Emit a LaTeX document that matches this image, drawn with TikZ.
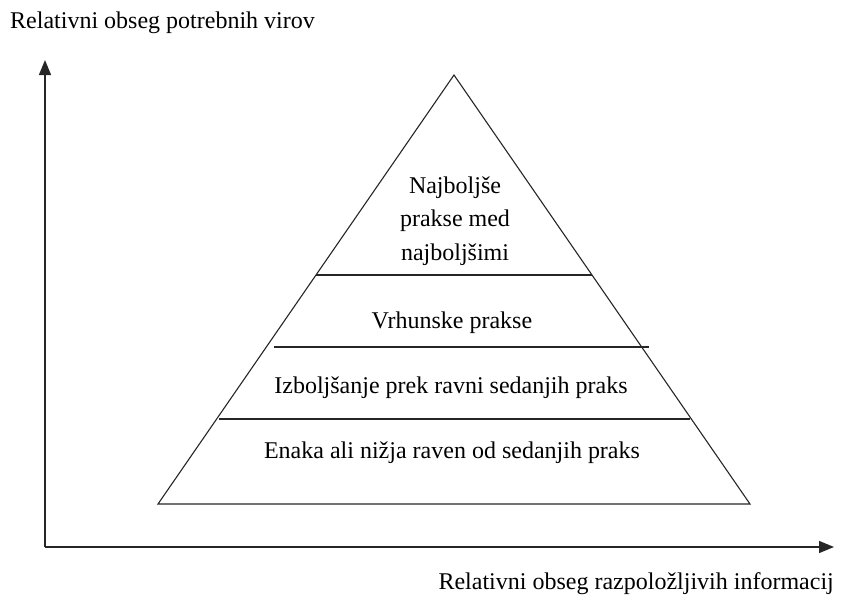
\documentclass[tikz,border=0pt]{standalone}
\usepackage{fontspec}
\setmainfont{Liberation Serif}
\usetikzlibrary{arrows.meta}
\begin{document}
\begin{tikzpicture}[x=1pt,y=-1pt,
  edge/.style={line width=1.1pt,draw=black!85},
  axis/.style={line width=1.4pt,draw=black!85,-{Triangle[length=15pt,width=12pt]}},
  lbl/.style={font=\fontsize{24}{33.5}\selectfont,inner sep=0pt,align=center}]
\useasboundingbox (0,0) rectangle (847,597);
% axes
\coordinate (O) at (45,547);
\coordinate (Ytip) at (45,60);
\coordinate (Xtip) at (834,547);
\draw[axis] (O) -- (Ytip);
\draw[axis] (O) -- (Xtip);
% triangle
\coordinate (A) at (454,75);
\coordinate (BL) at (158,504);
\coordinate (BR) at (750,504);
\draw[edge,line join=miter] (A) -- (BL) -- (BR) -- cycle;
% bands
\coordinate (l1a) at (316,275); \coordinate (l1b) at (592,275);
\coordinate (l2a) at (274,347); \coordinate (l2b) at (649,347);
\coordinate (l3a) at (219,419); \coordinate (l3b) at (690,419);
\draw[edge] (l1a) -- (l1b);
\draw[edge] (l2a) -- (l2b);
\draw[edge] (l3a) -- (l3b);
% texts
\node[lbl] (t1) at (455,221) {Najboljše\\prakse med\\najboljšimi};
\node[lbl] (t2) at (452,323) {Vrhunske prakse};
\node[lbl] (t3) at (451,388) {Izboljšanje prek ravni sedanjih praks};
\node[lbl] (t4) at (452,453) {Enaka ali nižja raven od sedanjih praks};
\node[lbl,anchor=west] (ya) at (10,23) {Relativni obseg potrebnih virov};
\node[lbl,anchor=east] (xa) at (834,584) {Relativni obseg razpoložljivih informacij};
\end{tikzpicture}
\end{document}
